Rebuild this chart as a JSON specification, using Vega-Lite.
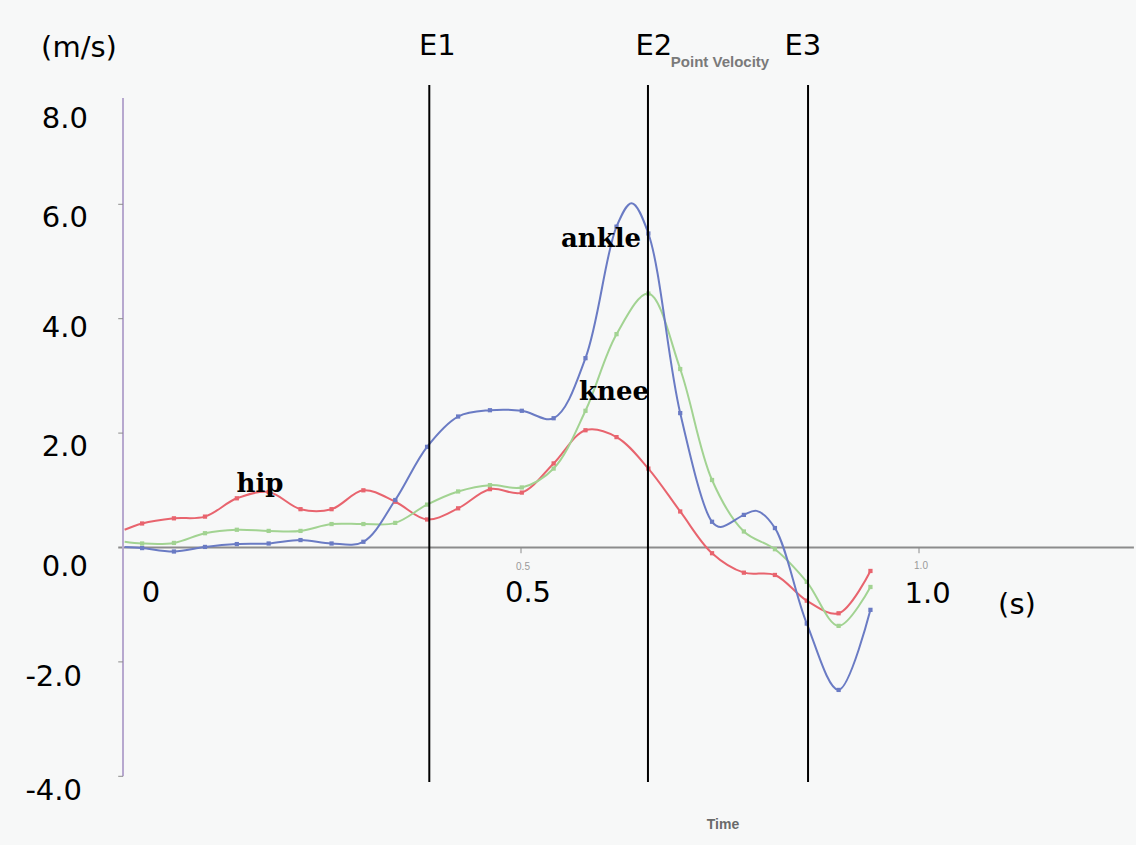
{
  "$schema": "https://vega.github.io/schema/vega-lite/v6.json",
  "width": 1136,
  "height": 845,
  "autosize": {"type": "fit", "contains": "padding"},
  "padding": 0,
  "background": "#f7f8f8",
  "config": {"view": {"stroke": null}},
  "datasets": {
    "curves": [
      {"s": "hip", "t": 0.002, "v": 0.31, "m": 0},
      {"s": "hip", "t": 0.024, "v": 0.42},
      {"s": "hip", "t": 0.064, "v": 0.51},
      {"s": "hip", "t": 0.103, "v": 0.54},
      {"s": "hip", "t": 0.143, "v": 0.86},
      {"s": "hip", "t": 0.183, "v": 0.97},
      {"s": "hip", "t": 0.223, "v": 0.67},
      {"s": "hip", "t": 0.262, "v": 0.67},
      {"s": "hip", "t": 0.302, "v": 1.0},
      {"s": "hip", "t": 0.342, "v": 0.8},
      {"s": "hip", "t": 0.382, "v": 0.49},
      {"s": "hip", "t": 0.421, "v": 0.685},
      {"s": "hip", "t": 0.461, "v": 1.02},
      {"s": "hip", "t": 0.501, "v": 0.96},
      {"s": "hip", "t": 0.541, "v": 1.47},
      {"s": "hip", "t": 0.581, "v": 2.05},
      {"s": "hip", "t": 0.62, "v": 1.93},
      {"s": "hip", "t": 0.66, "v": 1.38},
      {"s": "hip", "t": 0.7, "v": 0.63},
      {"s": "hip", "t": 0.74, "v": -0.1},
      {"s": "hip", "t": 0.78, "v": -0.44},
      {"s": "hip", "t": 0.819, "v": -0.48},
      {"s": "hip", "t": 0.859, "v": -0.93},
      {"s": "hip", "t": 0.899, "v": -1.15},
      {"s": "hip", "t": 0.939, "v": -0.41},
      {"s": "knee", "t": 0.002, "v": 0.1, "m": 0},
      {"s": "knee", "t": 0.024, "v": 0.07},
      {"s": "knee", "t": 0.064, "v": 0.08},
      {"s": "knee", "t": 0.103, "v": 0.25},
      {"s": "knee", "t": 0.143, "v": 0.31},
      {"s": "knee", "t": 0.183, "v": 0.29},
      {"s": "knee", "t": 0.223, "v": 0.29},
      {"s": "knee", "t": 0.262, "v": 0.41},
      {"s": "knee", "t": 0.302, "v": 0.41},
      {"s": "knee", "t": 0.342, "v": 0.43},
      {"s": "knee", "t": 0.382, "v": 0.75},
      {"s": "knee", "t": 0.421, "v": 0.98},
      {"s": "knee", "t": 0.461, "v": 1.09},
      {"s": "knee", "t": 0.501, "v": 1.05},
      {"s": "knee", "t": 0.541, "v": 1.38},
      {"s": "knee", "t": 0.581, "v": 2.39},
      {"s": "knee", "t": 0.62, "v": 3.73},
      {"s": "knee", "t": 0.66, "v": 4.44},
      {"s": "knee", "t": 0.7, "v": 3.12},
      {"s": "knee", "t": 0.74, "v": 1.18},
      {"s": "knee", "t": 0.78, "v": 0.28},
      {"s": "knee", "t": 0.819, "v": -0.03},
      {"s": "knee", "t": 0.859, "v": -0.6},
      {"s": "knee", "t": 0.899, "v": -1.37},
      {"s": "knee", "t": 0.939, "v": -0.69},
      {"s": "ankle", "t": 0.002, "v": 0.01, "m": 0},
      {"s": "ankle", "t": 0.024, "v": -0.01},
      {"s": "ankle", "t": 0.064, "v": -0.07},
      {"s": "ankle", "t": 0.103, "v": 0.01},
      {"s": "ankle", "t": 0.143, "v": 0.06},
      {"s": "ankle", "t": 0.183, "v": 0.07},
      {"s": "ankle", "t": 0.223, "v": 0.13},
      {"s": "ankle", "t": 0.262, "v": 0.07},
      {"s": "ankle", "t": 0.302, "v": 0.1},
      {"s": "ankle", "t": 0.342, "v": 0.83},
      {"s": "ankle", "t": 0.382, "v": 1.76},
      {"s": "ankle", "t": 0.421, "v": 2.29},
      {"s": "ankle", "t": 0.461, "v": 2.4},
      {"s": "ankle", "t": 0.501, "v": 2.39},
      {"s": "ankle", "t": 0.541, "v": 2.26},
      {"s": "ankle", "t": 0.581, "v": 3.31},
      {"s": "ankle", "t": 0.62, "v": 5.61},
      {"s": "ankle", "t": 0.639, "v": 6.02, "m": 0},
      {"s": "ankle", "t": 0.66, "v": 5.49},
      {"s": "ankle", "t": 0.7, "v": 2.35},
      {"s": "ankle", "t": 0.74, "v": 0.45},
      {"s": "ankle", "t": 0.751, "v": 0.36, "m": 0},
      {"s": "ankle", "t": 0.78, "v": 0.57},
      {"s": "ankle", "t": 0.796, "v": 0.64, "m": 0},
      {"s": "ankle", "t": 0.819, "v": 0.34},
      {"s": "ankle", "t": 0.859, "v": -1.33},
      {"s": "ankle", "t": 0.899, "v": -2.49},
      {"s": "ankle", "t": 0.939, "v": -1.09}
    ],
    "events": [
      {"name": "E1", "t": 0.3848, "t2": 0.3848, "v": 8.085, "v2": -4.1},
      {"name": "E2", "t": 0.6595, "t2": 0.6595, "v": 8.085, "v2": -4.1},
      {"name": "E3", "t": 0.8606, "t2": 0.8606, "v": 8.085, "v2": -4.1}
    ],
    "xaxis": [{"t": -0.006, "t2": 1.27, "v": 0, "v2": 0}],
    "yaxis": [{"t": 0, "t2": 0, "v": 7.86, "v2": -4.0}],
    "yticks": [
      {"t": -0.006, "t2": 0, "v": -4, "v2": -4},
      {"t": -0.006, "t2": 0, "v": -2, "v2": -2},
      {"t": -0.006, "t2": 0, "v": 2, "v2": 2},
      {"t": -0.006, "t2": 0, "v": 4, "v2": 4},
      {"t": -0.006, "t2": 0, "v": 6, "v2": 6}
    ],
    "xticks": [
      {"t": 0.5, "t2": 0.5, "v": 0, "v2": -0.1},
      {"t": 1.0, "t2": 1.0, "v": 0, "v2": -0.1}
    ],
    "labels": [
      {"g": "ylab", "text": "8.0", "t": -0.044, "v": 7.49},
      {"g": "ylab", "text": "6.0", "t": -0.044, "v": 5.76},
      {"g": "ylab", "text": "4.0", "t": -0.044, "v": 3.84},
      {"g": "ylab", "text": "2.0", "t": -0.044, "v": 1.76},
      {"g": "ylab", "text": "0.0", "t": -0.044, "v": -0.34},
      {"g": "ylab", "text": "-2.0", "t": -0.0515, "v": -2.26},
      {"g": "ylab", "text": "-4.0", "t": -0.0515, "v": -4.26},
      {"g": "big", "text": "(m/s)", "t": -0.0553, "v": 8.73},
      {"g": "big", "text": "0", "t": 0.0352, "v": -0.804},
      {"g": "big", "text": "0.5", "t": 0.5088, "v": -0.795},
      {"g": "big", "text": "1.0", "t": 1.0107, "v": -0.813},
      {"g": "big", "text": "(s)", "t": 1.1231, "v": -1.005},
      {"g": "big", "text": "E1", "t": 0.395, "v": 8.759},
      {"g": "big", "text": "E2", "t": 0.667, "v": 8.759},
      {"g": "big", "text": "E3", "t": 0.854, "v": 8.759},
      {"g": "ser", "text": "hip", "t": 0.1721, "v": 0.976},
      {"g": "ser", "text": "ankle", "t": 0.6005, "v": 5.254},
      {"g": "ser", "text": "knee", "t": 0.6168, "v": 2.579},
      {"g": "title", "text": "Point Velocity", "t": 0.75, "v": 8.488},
      {"g": "time", "text": "Time", "t": 0.7538, "v": -4.851},
      {"g": "small", "text": "0.5", "t": 0.5025, "v": -0.341},
      {"g": "small", "text": "1.0", "t": 1.0025, "v": -0.323}
    ]
  },
  "encoding": {
    "x": {"field": "t", "type": "quantitative", "scale": {"domain": [-0.15452, 1.27261], "nice": false, "zero": false}, "axis": null},
    "y": {"field": "v", "type": "quantitative", "scale": {"domain": [-5.201, 9.5717], "nice": false, "zero": false}, "axis": null}
  },
  "layer": [
    {
      "data": {"name": "xaxis"},
      "mark": {"type": "rule", "color": "#8c8c8c", "strokeWidth": 2},
      "encoding": {"x2": {"field": "t2"}, "y2": {"field": "v2"}}
    },
    {
      "data": {"name": "yaxis"},
      "mark": {"type": "rule", "color": "#b7a8cf", "strokeWidth": 2},
      "encoding": {"x2": {"field": "t2"}, "y2": {"field": "v2"}}
    },
    {
      "data": {"name": "yticks"},
      "mark": {"type": "rule", "color": "#8c8c8c", "strokeWidth": 1},
      "encoding": {"x2": {"field": "t2"}, "y2": {"field": "v2"}}
    },
    {
      "data": {"name": "xticks"},
      "mark": {"type": "rule", "color": "#8c8c8c", "strokeWidth": 1},
      "encoding": {"x2": {"field": "t2"}, "y2": {"field": "v2"}}
    },
    {
      "data": {"name": "curves"},
      "mark": {"type": "line", "interpolate": "catmull-rom", "strokeWidth": 2},
      "encoding": {
        "color": {"field": "s", "type": "nominal", "scale": {"domain": ["hip", "knee", "ankle"], "range": ["#e8646e", "#a2d392", "#6a7bc4"]}, "legend": null}
      }
    },
    {
      "data": {"name": "curves"},
      "transform": [{"filter": "datum.m !== 0"}],
      "mark": {"type": "point", "shape": "square", "filled": true, "size": 18, "opacity": 1},
      "encoding": {
        "color": {"field": "s", "type": "nominal", "scale": {"domain": ["hip", "knee", "ankle"], "range": ["#e8646e", "#a2d392", "#6a7bc4"]}, "legend": null}
      }
    },
    {
      "data": {"name": "events"},
      "mark": {"type": "rule", "color": "#000000", "strokeWidth": 2},
      "encoding": {"x2": {"field": "t2"}, "y2": {"field": "v2"}}
    },
    {
      "data": {"name": "labels"},
      "transform": [{"filter": "datum.g === 'ylab'"}],
      "mark": {"type": "text", "font": "DejaVu Sans", "fontSize": 29, "align": "right", "baseline": "middle", "color": "#000000"},
      "encoding": {"text": {"field": "text"}}
    },
    {
      "data": {"name": "labels"},
      "transform": [{"filter": "datum.g === 'big'"}],
      "mark": {"type": "text", "font": "DejaVu Sans", "fontSize": 29, "align": "center", "baseline": "middle", "color": "#000000"},
      "encoding": {"text": {"field": "text"}}
    },
    {
      "data": {"name": "labels"},
      "transform": [{"filter": "datum.g === 'ser'"}],
      "mark": {"type": "text", "font": "DejaVu Serif", "fontWeight": "bold", "fontSize": 26, "align": "center", "baseline": "alphabetic", "color": "#000000"},
      "encoding": {"text": {"field": "text"}}
    },
    {
      "data": {"name": "labels"},
      "transform": [{"filter": "datum.g === 'title'"}],
      "mark": {"type": "text", "font": "Liberation Sans", "fontWeight": "bold", "fontSize": 15, "align": "center", "baseline": "middle", "color": "#7a7a7a"},
      "encoding": {"text": {"field": "text"}}
    },
    {
      "data": {"name": "labels"},
      "transform": [{"filter": "datum.g === 'time'"}],
      "mark": {"type": "text", "font": "Liberation Sans", "fontWeight": "bold", "fontSize": 14, "align": "center", "baseline": "middle", "color": "#6a6a6a"},
      "encoding": {"text": {"field": "text"}}
    },
    {
      "data": {"name": "labels"},
      "transform": [{"filter": "datum.g === 'small'"}],
      "mark": {"type": "text", "font": "Liberation Sans", "fontSize": 10, "align": "center", "baseline": "middle", "color": "#9a9a9a"},
      "encoding": {"text": {"field": "text"}}
    }
  ]
}
